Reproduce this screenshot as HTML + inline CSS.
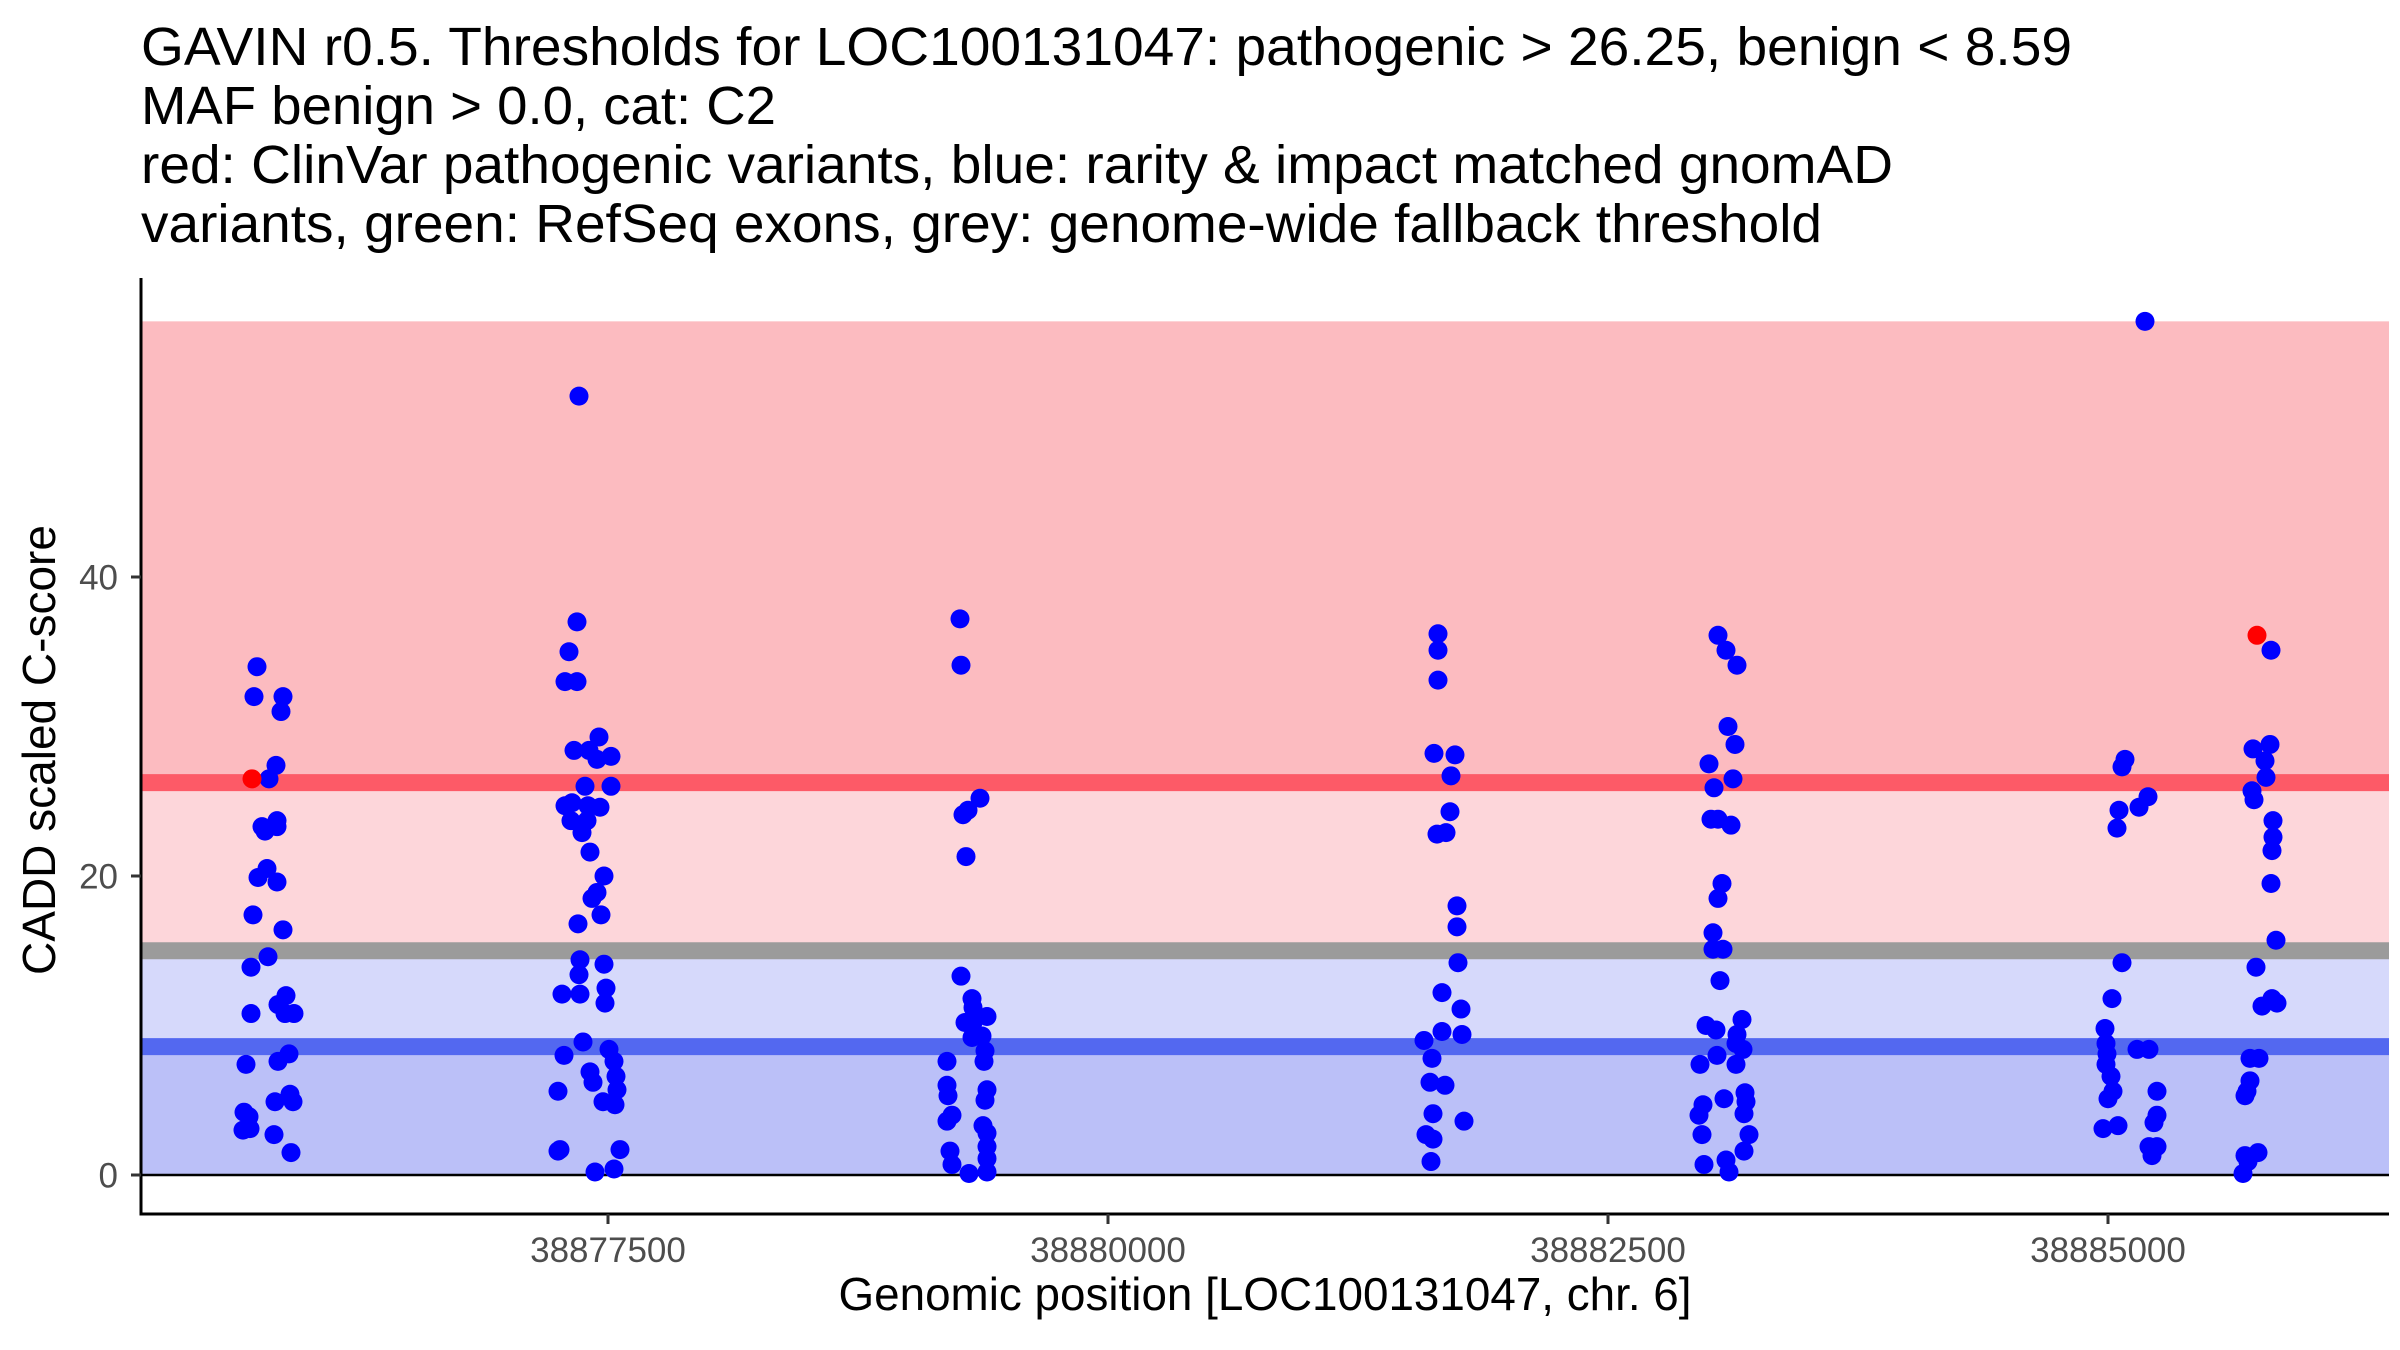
<!DOCTYPE html>
<html>
<head>
<meta charset="utf-8">
<style>
  html, body { margin: 0; padding: 0; background: #ffffff; }
  body { width: 2400px; height: 1350px; overflow: hidden; }
  svg { display: block; font-family: "Liberation Sans", Arial, sans-serif; }
</style>
</head>
<body>
<svg id="chart" width="2400" height="1350" viewBox="0 0 2400 1350" xmlns="http://www.w3.org/2000/svg">
  <rect x="0" y="0" width="2400" height="1350" fill="#ffffff"/>
  <g fill="#000000" font-size="54">
    <text x="141" y="65" textLength="1931" lengthAdjust="spacingAndGlyphs">GAVIN r0.5. Thresholds for LOC100131047: pathogenic &gt; 26.25, benign &lt; 8.59</text>
    <text x="141" y="124" textLength="635" lengthAdjust="spacingAndGlyphs">MAF benign &gt; 0.0, cat: C2</text>
    <text x="141" y="183" textLength="1752" lengthAdjust="spacingAndGlyphs">red: ClinVar pathogenic variants, blue: rarity &amp; impact matched gnomAD</text>
    <text x="141" y="242" textLength="1681" lengthAdjust="spacingAndGlyphs">variants, green: RefSeq exons, grey: genome-wide fallback threshold</text>
  </g>
  <g id="bands"></g>
  <g id="points"></g>
  <g id="axes"></g>
</svg>
<script>
// ---- data ----
const thresholdPathogenic = 26.25;
const thresholdBenign = 8.59;
const thresholdFallback = 15;
const scoreMax = 57.1;
const xTicks = [38877500, 38880000, 38882500, 38885000];
const xTickLabels = ["38877500", "38880000", "38882500", "38885000"];
const yTicks = [0, 20, 40];
const yTickLabels = ["0", "20", "40"];

const benignPositions = [
  38875745,38875730,38875875,38875865,38875840,38875805,38875845,38875770,38875785,38875845,38875795,38875750,38875845,38875725,38875875,38875800,38875715,38875890,38875850,38875930,38875885,38875715,38875905,38875850,38875690,38875910,38875835,38875925,38875680,38875705,38875675,38875710,38875830,38875915,
  38877355,38877345,38877305,38877285,38877345,38877455,38877330,38877405,38877445,38877515,38877385,38877515,38877285,38877320,38877400,38877460,38877315,38877395,38877370,38877410,38877480,38877445,38877420,38877465,38877350,38877360,38877355,38877480,38877270,38877360,38877490,38877485,38877375,38877280,38877505,38877530,38877410,38877540,38877425,38877250,38877545,38877475,38877535,38877250,38877260,38877560,38877435,38877530,
  38879260,38879265,38879360,38879300,38879275,38879290,38879265,38879320,38879325,38879395,38879285,38879325,38879370,38879320,38879385,38879380,38879195,38879195,38879200,38879395,38879385,38879220,38879195,38879375,38879395,38879210,38879395,38879395,38879220,38879395,38879305,
  38881650,38881650,38881650,38881630,38881735,38881715,38881710,38881690,38881645,38881745,38881745,38881750,38881670,38881765,38881670,38881770,38881580,38881620,38881610,38881685,38881625,38881780,38881590,38881625,38881615,
  38883050,38883090,38883145,38883100,38883135,38883005,38883125,38883030,38883015,38883050,38883115,38883070,38883050,38883025,38883025,38883075,38883060,38883170,38882990,38883040,38883145,38883140,38883175,38883045,38882960,38883140,38883185,38883080,38883190,38882975,38882955,38883180,38883205,38882970,38883180,38882980,38883090,38883105,
  38885185,38885085,38885070,38885200,38885155,38885055,38885045,38885070,38885020,38884985,38884990,38885145,38885205,38884995,38884990,38885015,38885025,38885000,38885245,38885245,38885230,38885050,38884975,38885205,38885245,38885220,
  38885815,38885725,38885810,38885785,38885790,38885720,38885730,38885825,38885825,38885820,38885815,38885840,38885740,38885770,38885820,38885845,38885710,38885755,38885710,38885685,38885695,38885750,38885685,38885700,38885675
];
const benignScores = [
  34.0,32.0,32.0,31.0,27.4,26.5,23.7,23.3,23.0,23.3,20.5,19.9,19.6,17.4,16.4,14.6,13.9,12.0,11.4,10.8,10.8,10.8,8.1,7.6,7.4,5.4,4.9,4.9,4.2,3.9,3.0,3.1,2.7,1.5,
  52.1,37.0,35.0,33.0,33.0,29.3,28.4,28.4,27.8,28.0,26.0,26.0,24.7,24.9,24.7,24.6,23.7,23.7,22.9,21.6,20.0,18.9,18.5,17.4,16.8,14.4,13.4,14.1,12.1,12.1,12.5,11.5,8.9,8.0,8.4,7.6,6.9,6.6,6.2,5.6,5.7,4.9,4.7,1.6,1.7,1.7,0.2,0.4,
  37.2,34.1,25.2,24.4,24.1,21.3,13.3,11.8,11.2,10.6,10.2,10.2,9.3,9.2,8.3,7.6,7.6,6.0,5.3,5.7,5.0,4.0,3.6,3.3,2.8,1.6,1.9,1.1,0.7,0.2,0.1,
  36.2,35.1,33.1,28.2,28.1,26.7,24.3,22.9,22.8,18.0,16.6,14.2,12.2,11.1,9.6,9.4,9.0,7.8,6.2,6.0,4.1,3.6,2.7,2.4,0.9,
  36.1,35.1,34.1,30.0,28.8,27.5,26.5,25.9,23.8,23.8,23.4,19.5,18.5,16.2,15.1,15.1,13.0,10.4,10.0,9.7,9.4,8.8,8.4,8.0,7.4,7.4,5.5,5.1,4.9,4.7,4.0,4.1,2.7,2.7,1.6,0.7,1.0,0.2,
  57.1,27.8,27.3,25.3,24.6,24.4,23.2,14.2,11.8,9.8,8.8,8.4,8.4,8.1,7.4,6.6,5.6,5.1,5.6,4.0,3.5,3.3,3.1,1.9,1.9,1.3,
  35.1,28.5,28.8,27.7,26.6,25.7,25.1,23.7,22.6,21.7,19.5,15.7,13.9,11.3,11.8,11.5,7.8,7.8,6.3,5.3,5.6,1.5,1.3,0.9,0.1
];
const pathogenicPositions = [38875720, 38885745];
const pathogenicScores = [26.5, 36.1];

// ---- scales ----
const panelLeft = 141, panelRight = 2389, axisBottom = 1214;
function xScale(pos) { return 608 + (pos - 38877500) * 0.2; }
function yScale(v) { return 1175 - v * 14.95; }

const NS = "http://www.w3.org/2000/svg";
function mk(tag, attrs, parent) {
  const el = document.createElementNS(NS, tag);
  for (const k in attrs) el.setAttribute(k, attrs[k]);
  parent.appendChild(el);
  return el;
}

// ---- bands ----
const bands = document.getElementById("bands");
const W = panelRight - panelLeft;
let r;
r = mk("rect", {x: panelLeft, y: yScale(scoreMax), width: W, height: yScale(thresholdPathogenic) - yScale(scoreMax), fill: "#fcbbc0"}, bands);


r = mk("rect", {x: panelLeft, y: yScale(thresholdPathogenic), width: W, height: yScale(thresholdFallback) - yScale(thresholdPathogenic), fill: "#fdd6da"}, bands);


r = mk("rect", {x: panelLeft, y: yScale(thresholdFallback), width: W, height: yScale(thresholdBenign) - yScale(thresholdFallback), fill: "#d6d9fb"}, bands);


r = mk("rect", {x: panelLeft, y: yScale(thresholdBenign), width: W, height: yScale(0) - yScale(thresholdBenign), fill: "#bbc0f8"}, bands);



let ln;
ln = mk("line", {x1: panelLeft, x2: panelRight, y1: yScale(thresholdPathogenic), y2: yScale(thresholdPathogenic), stroke: "#fd5a67", "stroke-width": 17}, bands);


ln = mk("line", {x1: panelLeft, x2: panelRight, y1: yScale(thresholdFallback), y2: yScale(thresholdFallback), stroke: "#9b9b9b", "stroke-width": 17}, bands);


ln = mk("line", {x1: panelLeft, x2: panelRight, y1: yScale(thresholdBenign), y2: yScale(thresholdBenign), stroke: "#5368f0", "stroke-width": 17}, bands);


ln = mk("line", {x1: panelLeft, x2: panelRight, y1: yScale(0), y2: yScale(0), stroke: "#000000", "stroke-width": 2.5}, bands);



// ---- points ----
const pts = document.getElementById("points");
for (let i = 0; i < benignPositions.length; i++) {
  const c = mk("circle", {cx: xScale(benignPositions[i]), cy: yScale(benignScores[i]), r: 9.5, fill: "#0000ff"}, pts);
  
  
}
for (let i = 0; i < pathogenicPositions.length; i++) {
  const c = mk("circle", {cx: xScale(pathogenicPositions[i]), cy: yScale(pathogenicScores[i]), r: 9.5, fill: "#ff0000"}, pts);
  
  
}

// ---- axes ----
const axes = document.getElementById("axes");
let a;
a = mk("line", {x1: panelLeft, x2: panelLeft, y1: 278, y2: axisBottom + 1.5, stroke: "#000", "stroke-width": 3}, axes);


a = mk("line", {x1: panelLeft - 1.5, x2: panelRight, y1: axisBottom, y2: axisBottom, stroke: "#000", "stroke-width": 3}, axes);



for (let i = 0; i < yTicks.length; i++) {
  const y = yScale(yTicks[i]);
  const t = mk("line", {x1: panelLeft - 10, x2: panelLeft, y1: y, y2: y, stroke: "#333", "stroke-width": 3}, axes);
  
  
  const lb = mk("text", {x: 118, y: y + 12.5, "text-anchor": "end", "font-size": 35, fill: "#4d4d4d"}, axes);
  lb.textContent = yTickLabels[i];
  
  
}
for (let i = 0; i < xTicks.length; i++) {
  const x = xScale(xTicks[i]);
  const t = mk("line", {x1: x, x2: x, y1: axisBottom, y2: axisBottom + 10, stroke: "#333", "stroke-width": 3}, axes);
  
  
  const lb = mk("text", {x: x, y: 1262, "text-anchor": "middle", "font-size": 35, fill: "#4d4d4d"}, axes);
  lb.textContent = xTickLabels[i];
  
  
}

const xt = mk("text", {x: 1265, y: 1310, "text-anchor": "middle", "font-size": 46, fill: "#000", textLength: 853, lengthAdjust: "spacingAndGlyphs"}, axes);
xt.textContent = "Genomic position [LOC100131047, chr. 6]";



const yt = mk("text", {x: 0, y: 0, "text-anchor": "middle", "font-size": 46, fill: "#000", transform: "translate(55,750) rotate(-90)"}, axes);
yt.textContent = "CADD scaled C-score";


</script>
</body>
</html>
